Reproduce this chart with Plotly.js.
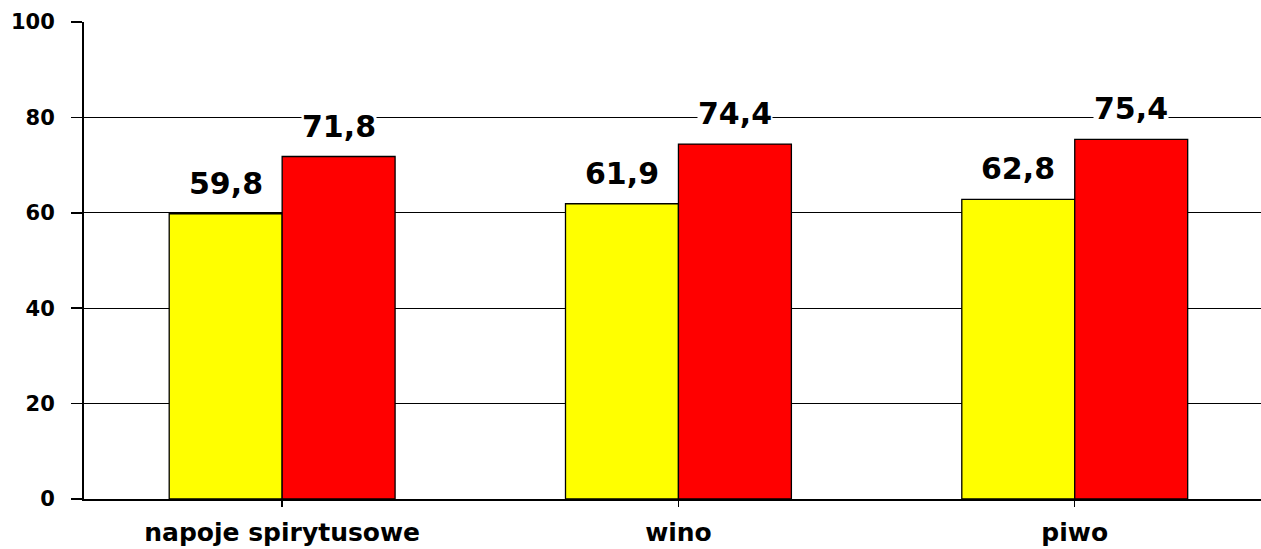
<!DOCTYPE html>
<html><head><meta charset="utf-8">
<script src="https://cdn.plot.ly/plotly-3.0.1.min.js"></script>
<style>html,body{margin:0;padding:0;background:#fff;}#chart{width:1261px;height:549px;}</style>
</head><body><div id="chart"></div>
<script>
const categories = ["napoje spirytusowe", "wino", "piwo"];
const seriesA = [59.8, 61.9, 62.8];
const seriesB = [71.8, 74.4, 75.4];
const yTicks = [0, 20, 40, 60, 80, 100];

const fmt = v => v.toFixed(1).replace('.', ',');
const font = "DejaVu Sans, Verdana, sans-serif";

const traces = [
  {type:'bar', x:[0,1,2], y:seriesA, marker:{color:'#ffff00', line:{color:'#000', width:1.3}}, hoverinfo:'none'},
  {type:'bar', x:[0,1,2], y:seriesB, marker:{color:'#ff0000', line:{color:'#000', width:1.3}}, hoverinfo:'none'}
];

const off = 0.1428;
const annotations = [];
[seriesA, seriesB].forEach((s, k) => {
  s.forEach((v, i) => {
    annotations.push({x: i + (k === 0 ? -off : off), y: v, xref:'x', yref:'y',
      text: fmt(v), showarrow:false, yanchor:'bottom', xanchor:'center',
      yshift: 12, bgcolor:'#fff', borderpad:0,
      font:{family:font, size:30, color:'#000', weight:'bold'}});
  });
});

const layout = {
  width:1261, height:549,
  margin:{l:84, r:0, t:22, b:50},
  paper_bgcolor:'#fff', plot_bgcolor:'#fff',
  showlegend:false, barmode:'group', bargap:0.43, bargroupgap:0,
  font:{family:font, color:'#000'},
  xaxis:{range:[-0.5, 2.47], tickmode:'array', tickvals:[0,1,2], ticktext:categories,
    ticks:'outside', tickson:'boundaries', ticklen:6, tickwidth:1.5, tickcolor:'#000',
    showline:true, linecolor:'#000', linewidth:1.5, showgrid:false, zeroline:false,
    ticklabelstandoff:4,
    tickfont:{family:font, size:25, color:'#000', weight:'bold'}, fixedrange:true},
  yaxis:{range:[0,100], tickmode:'array', tickvals:yTicks, ticktext:yTicks.map(String),
    ticks:'outside', ticklen:11, tickwidth:1.5, tickcolor:'#000',
    showline:true, linecolor:'#000', linewidth:2, showgrid:true, gridcolor:'#000', gridwidth:1.3,
    zeroline:false, ticklabelstandoff:12,
    tickfont:{family:font, size:21, color:'#000', weight:'bold'}, fixedrange:true},
  annotations: annotations
};
Plotly.newPlot('chart', traces, layout, {displayModeBar:false, staticPlot:true});
</script></body></html>
